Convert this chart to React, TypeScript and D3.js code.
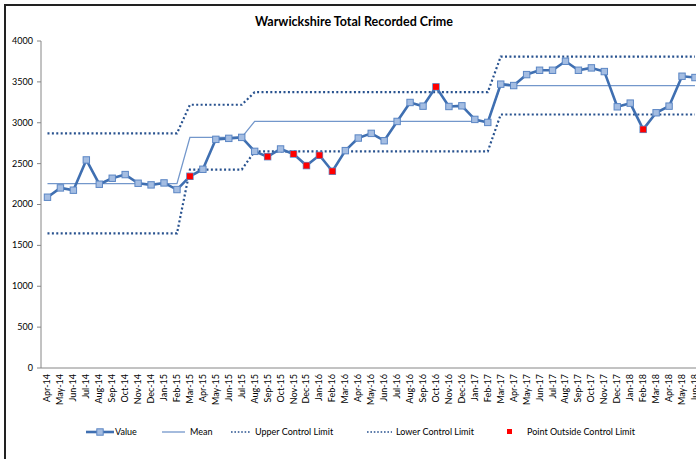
import * as d3 from "d3";

const months = [
  "Apr-14", "May-14", "Jun-14", "Jul-14", "Aug-14", "Sep-14", "Oct-14", "Nov-14", "Dec-14", "Jan-15", "Feb-15", "Mar-15",
  "Apr-15", "May-15", "Jun-15", "Jul-15", "Aug-15", "Sep-15", "Oct-15", "Nov-15", "Dec-15", "Jan-16", "Feb-16", "Mar-16",
  "Apr-16", "May-16", "Jun-16", "Jul-16", "Aug-16", "Sep-16", "Oct-16", "Nov-16", "Dec-16", "Jan-17", "Feb-17", "Mar-17",
  "Apr-17", "May-17", "Jun-17", "Jul-17", "Aug-17", "Sep-17", "Oct-17", "Nov-17", "Dec-17", "Jan-18", "Feb-18", "Mar-18",
  "Apr-18", "May-18", "Jun-18",
];

const values = [
  2089, 2203, 2175, 2545, 2248, 2321, 2366, 2260, 2240, 2264, 2183, 2345,
  2431, 2797, 2809, 2821, 2650, 2585, 2679, 2618, 2476, 2602, 2407, 2659,
  2813, 2870, 2780, 3016, 3248, 3203, 3439, 3199, 3207, 3041, 3004, 3472,
  3455, 3589, 3642, 3642, 3752, 3642, 3671, 3626, 3195, 3240, 2919, 3122,
  3203, 3569, 3553,
];

// control periods: first month index of each period and its limits
const periodStart = [0, 11, 16, 35];
const periodMean = [2256, 2821, 3016, 3455];
const periodUcl = [2870, 3220, 3374, 3809];
const periodLcl = [1646, 2427, 2650, 3101];

// months flagged as outside the control limits
const outsideMonths = ["Mar-15", "Sep-15", "Nov-15", "Dec-15", "Jan-16", "Feb-16", "Oct-16", "Feb-18"];

const yTicks = [0, 500, 1000, 1500, 2000, 2500, 3000, 3500, 4000];

const W = 696;
const H = 459;
const FONT = "Lato, 'Open Sans', sans-serif";

function periodOf(i: number) {
  let p = 0;
  periodStart.forEach((s, k) => {
    if (i >= s) p = k;
  });
  return p;
}

export default function App() {
  const step = 12.95;
  const x = d3
    .scaleBand<string>()
    .domain(months)
    .range([41, 41 + months.length * step]);
  const cx = (m: string) => (x(m) ?? 0) + x.bandwidth() / 2;
  const y = d3.scaleLinear().domain([0, 4000]).range([368, 41]);

  const rows = months.map((m, i) => {
    const p = periodOf(i);
    return { m, v: values[i], mean: periodMean[p], ucl: periodUcl[p], lcl: periodLcl[p] };
  });
  type Row = (typeof rows)[number];

  const line = (acc: (r: Row) => number) =>
    d3
      .line<Row>()
      .x((r) => cx(r.m))
      .y((r) => y(acc(r)))(rows) ?? "";

  const blue = "#3f6fb1";
  const dotted = "#28528f";

  return (
    <svg
      width={W}
      height={H}
      style={{ position: "absolute", left: 0, top: 0, background: "#fff", fontFamily: FONT }}
    >
      <defs>
        <clipPath id="clip">
          <rect x={0} y={0} width={W} height={H} />
        </clipPath>
      </defs>
      {/* outer border */}
      <path d={`M5,${H} V5 H${W}`} fill="none" stroke="#222" strokeWidth={2} />

      <text x={354} y={26} textAnchor="middle" fontSize={12.5} fontWeight="bold" fill="#000">
        Warwickshire Total Recorded Crime
      </text>

      {/* y axis */}
      <line x1={41} x2={41} y1={41} y2={368} stroke="#868686" strokeWidth={1} />
      {yTicks.map((t) => (
        <g key={t}>
          <line x1={37} x2={41} y1={y(t)} y2={y(t)} stroke="#868686" />
          <text x={33} y={y(t)} dy="0.33em" textAnchor="end" fontSize={9} fill="#000">
            {t}
          </text>
        </g>
      ))}
      {/* x axis */}
      <line x1={41} x2={W} y1={368} y2={368} stroke="#868686" strokeWidth={1} />
      {months.map((m) => (
        <text
          key={m}
          transform={`translate(${cx(m)},374) rotate(-90)`}
          dy="0.33em"
          textAnchor="end"
          fontSize={9}
          fill="#000"
        >
          {m}
        </text>
      ))}

      <g clipPath="url(#clip)">
        <path d={line((r) => r.ucl)} fill="none" stroke={dotted} strokeWidth={2.2} strokeDasharray="2 2.4" />
        <path d={line((r) => r.lcl)} fill="none" stroke={dotted} strokeWidth={2.2} strokeDasharray="2 2.4" />
        <path d={line((r) => r.mean)} fill="none" stroke="#7397cb" strokeWidth={1.3} />
        <path d={line((r) => r.v)} fill="none" stroke={blue} strokeWidth={2.6} strokeLinejoin="round" />
        {rows.map((r) => (
          <rect
            key={r.m}
            x={cx(r.m) - 3.2}
            y={y(r.v) - 3.2}
            width={6.4}
            height={6.4}
            fill="#a4bde2"
            stroke="#5b86c4"
            strokeWidth={1}
          />
        ))}
        {rows
          .filter((r) => outsideMonths.includes(r.m))
          .map((r) => (
            <rect key={r.m} x={cx(r.m) - 3} y={y(r.v) - 3} width={6} height={6} fill="#ff0000" />
          ))}
      </g>

      {/* legend */}
      <g fontSize={9} fill="#000">
        <line x1={86} x2={114} y1={432} y2={432} stroke={blue} strokeWidth={2.6} />
        <rect x={96.8} y={428.8} width={6.4} height={6.4} fill="#a4bde2" stroke="#5b86c4" />
        <text x={115} y={432} dy="0.33em">Value</text>

        <line x1={162} x2={185} y1={432} y2={432} stroke="#7397cb" strokeWidth={1.3} />
        <text x={190} y={432} dy="0.33em">Mean</text>

        <line x1={231} x2={251} y1={432} y2={432} stroke={dotted} strokeWidth={1.6} strokeDasharray="1.6 1.8" />
        <text x={255} y={432} dy="0.33em">Upper Control Limit</text>

        <line x1={367} x2={392} y1={432} y2={432} stroke={dotted} strokeWidth={1.6} strokeDasharray="1.6 1.8" />
        <text x={396} y={432} dy="0.33em">Lower Control Limit</text>

        <rect x={507} y={429} width={5} height={5} fill="#ff0000" />
        <text x={527} y={432} dy="0.33em">Point Outside Control Limit</text>
      </g>
    </svg>
  );
}
